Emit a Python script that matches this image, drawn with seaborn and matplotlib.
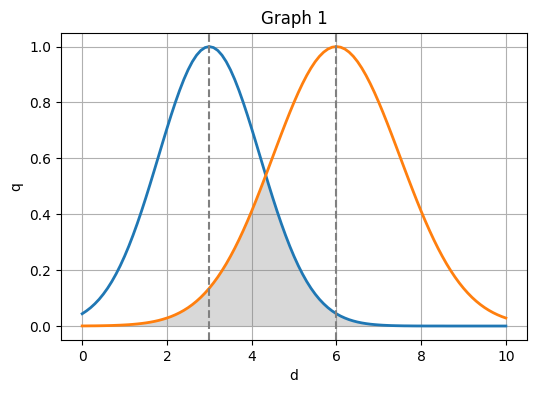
import numpy as np
import pandas as pd
import matplotlib
matplotlib.use("Agg")
import matplotlib.pyplot as plt
import seaborn as sns

d = [0.0, 0.1, 0.2, 0.3, 0.4, 0.5, 0.6, 0.7, 0.8, 0.9,
     1.0, 1.1, 1.2, 1.3, 1.4, 1.5, 1.6, 1.7, 1.8, 1.9,
     2.0, 2.1, 2.2, 2.3, 2.4, 2.5, 2.6, 2.7, 2.8, 2.9,
     3.0, 3.1, 3.2, 3.3, 3.4, 3.5, 3.6, 3.7, 3.8, 3.9,
     4.0, 4.1, 4.2, 4.3, 4.4, 4.5, 4.6, 4.7, 4.8, 4.9,
     5.0, 5.1, 5.2, 5.3, 5.4, 5.5, 5.6, 5.7, 5.8, 5.9,
     6.0, 6.1, 6.2, 6.3, 6.4, 6.5, 6.6, 6.7, 6.8, 6.9,
     7.0, 7.1, 7.2, 7.3, 7.4, 7.5, 7.6, 7.7, 7.8, 7.9,
     8.0, 8.1, 8.2, 8.3, 8.4, 8.5, 8.6, 8.7, 8.8, 8.9,
     9.0, 9.1, 9.2, 9.3, 9.4, 9.5, 9.6, 9.7, 9.8, 9.9,
     10.0]
q_blue = [0.0439, 0.0539, 0.0657, 0.0796, 0.0956, 0.1142, 0.1353, 0.1593, 0.1863, 0.2163,
          0.2494, 0.2855, 0.3247, 0.3666, 0.4111, 0.4578, 0.5063, 0.5561, 0.6065, 0.6570,
          0.7066, 0.7548, 0.8007, 0.8435, 0.8825, 0.9169, 0.9460, 0.9692, 0.9862, 0.9965,
          1.0,
          0.9965, 0.9862, 0.9692, 0.9460, 0.9169, 0.8825, 0.8435, 0.8007, 0.7548, 0.7066,
          0.6570, 0.6065, 0.5561, 0.5063, 0.4578, 0.4111, 0.3666, 0.3247, 0.2855, 0.2494,
          0.2163, 0.1863, 0.1593, 0.1353, 0.1142, 0.0956, 0.0796, 0.0657, 0.0539, 0.0439,
          0.0355, 0.0286, 0.0228, 0.0181, 0.0142, 0.0111, 0.0086, 0.0066, 0.0051, 0.0039,
          0.0029, 0.0022, 0.0016, 0.0012, 0.0009, 0.0006, 0.0005, 0.0003, 0.0002, 0.0002,
          0.0001, 0.0001, 0.0001, 0.0001, 0.0001, 0.0, 0.0, 0.0, 0.0, 0.0,
          0.0, 0.0, 0.0, 0.0, 0.0, 0.0, 0.0, 0.0, 0.0, 0.0]
q_orange = [0.0003, 0.0004, 0.0006, 0.0007, 0.0009, 0.0012, 0.0015, 0.0019, 0.0025, 0.0031,
            0.0039, 0.0048, 0.0060, 0.0074, 0.0091, 0.0111, 0.0135, 0.0164, 0.0198, 0.0239,
            0.0286, 0.0340, 0.0404, 0.0477, 0.0561, 0.0657, 0.0766, 0.0889, 0.1027, 0.1182,
            0.1353, 0.1543, 0.1751, 0.1979, 0.2226, 0.2494, 0.2780, 0.3086, 0.3411, 0.3753,
            0.4111, 0.4483, 0.4868, 0.5261, 0.5661, 0.6065, 0.6469, 0.6869, 0.7261, 0.7642,
            0.8007, 0.8353, 0.8674, 0.8968, 0.9231, 0.9460, 0.9651, 0.9802, 0.9912, 0.9978,
            1.0,
            0.9978, 0.9912, 0.9802, 0.9651, 0.9460, 0.9231, 0.8968, 0.8674, 0.8353, 0.8007,
            0.7642, 0.7261, 0.6869, 0.6469, 0.6065, 0.5661, 0.5261, 0.4868, 0.4483, 0.4111,
            0.3753, 0.3411, 0.3086, 0.2780, 0.2494, 0.2226, 0.1979, 0.1751, 0.1543, 0.1353,
            0.1182, 0.1027, 0.0889, 0.0766, 0.0657, 0.0561, 0.0477, 0.0404, 0.0340, 0.0286]
vlines = [3, 6]

df = pd.DataFrame({"d": d, "blue": q_blue, "orange": q_orange})

fig = plt.figure(figsize=(5.36, 3.93), dpi=100)
ax = fig.add_axes([0.1138, 0.1349, 0.8695, 0.7821])

sns.lineplot(data=df, x="d", y="blue", ax=ax, color="#1f77b4", linewidth=2)
sns.lineplot(data=df, x="d", y="orange", ax=ax, color="#ff7f0e", linewidth=2)
ax.fill_between(df["d"], 0, np.minimum(df["blue"], df["orange"]), color="gray", alpha=0.3, linewidth=0)
for v in vlines:
    ax.axvline(v, color="gray", linestyle="--", linewidth=1.5)

ax.grid(True)
ax.set_axisbelow(True)
ax.set_title("Graph 1")
ax.set_xlabel("d")
ax.set_ylabel("q")
ax.set_xlim(-0.5, 10.5)
ax.set_ylim(-0.05, 1.05)
fig.savefig("out.png", dpi=100)
